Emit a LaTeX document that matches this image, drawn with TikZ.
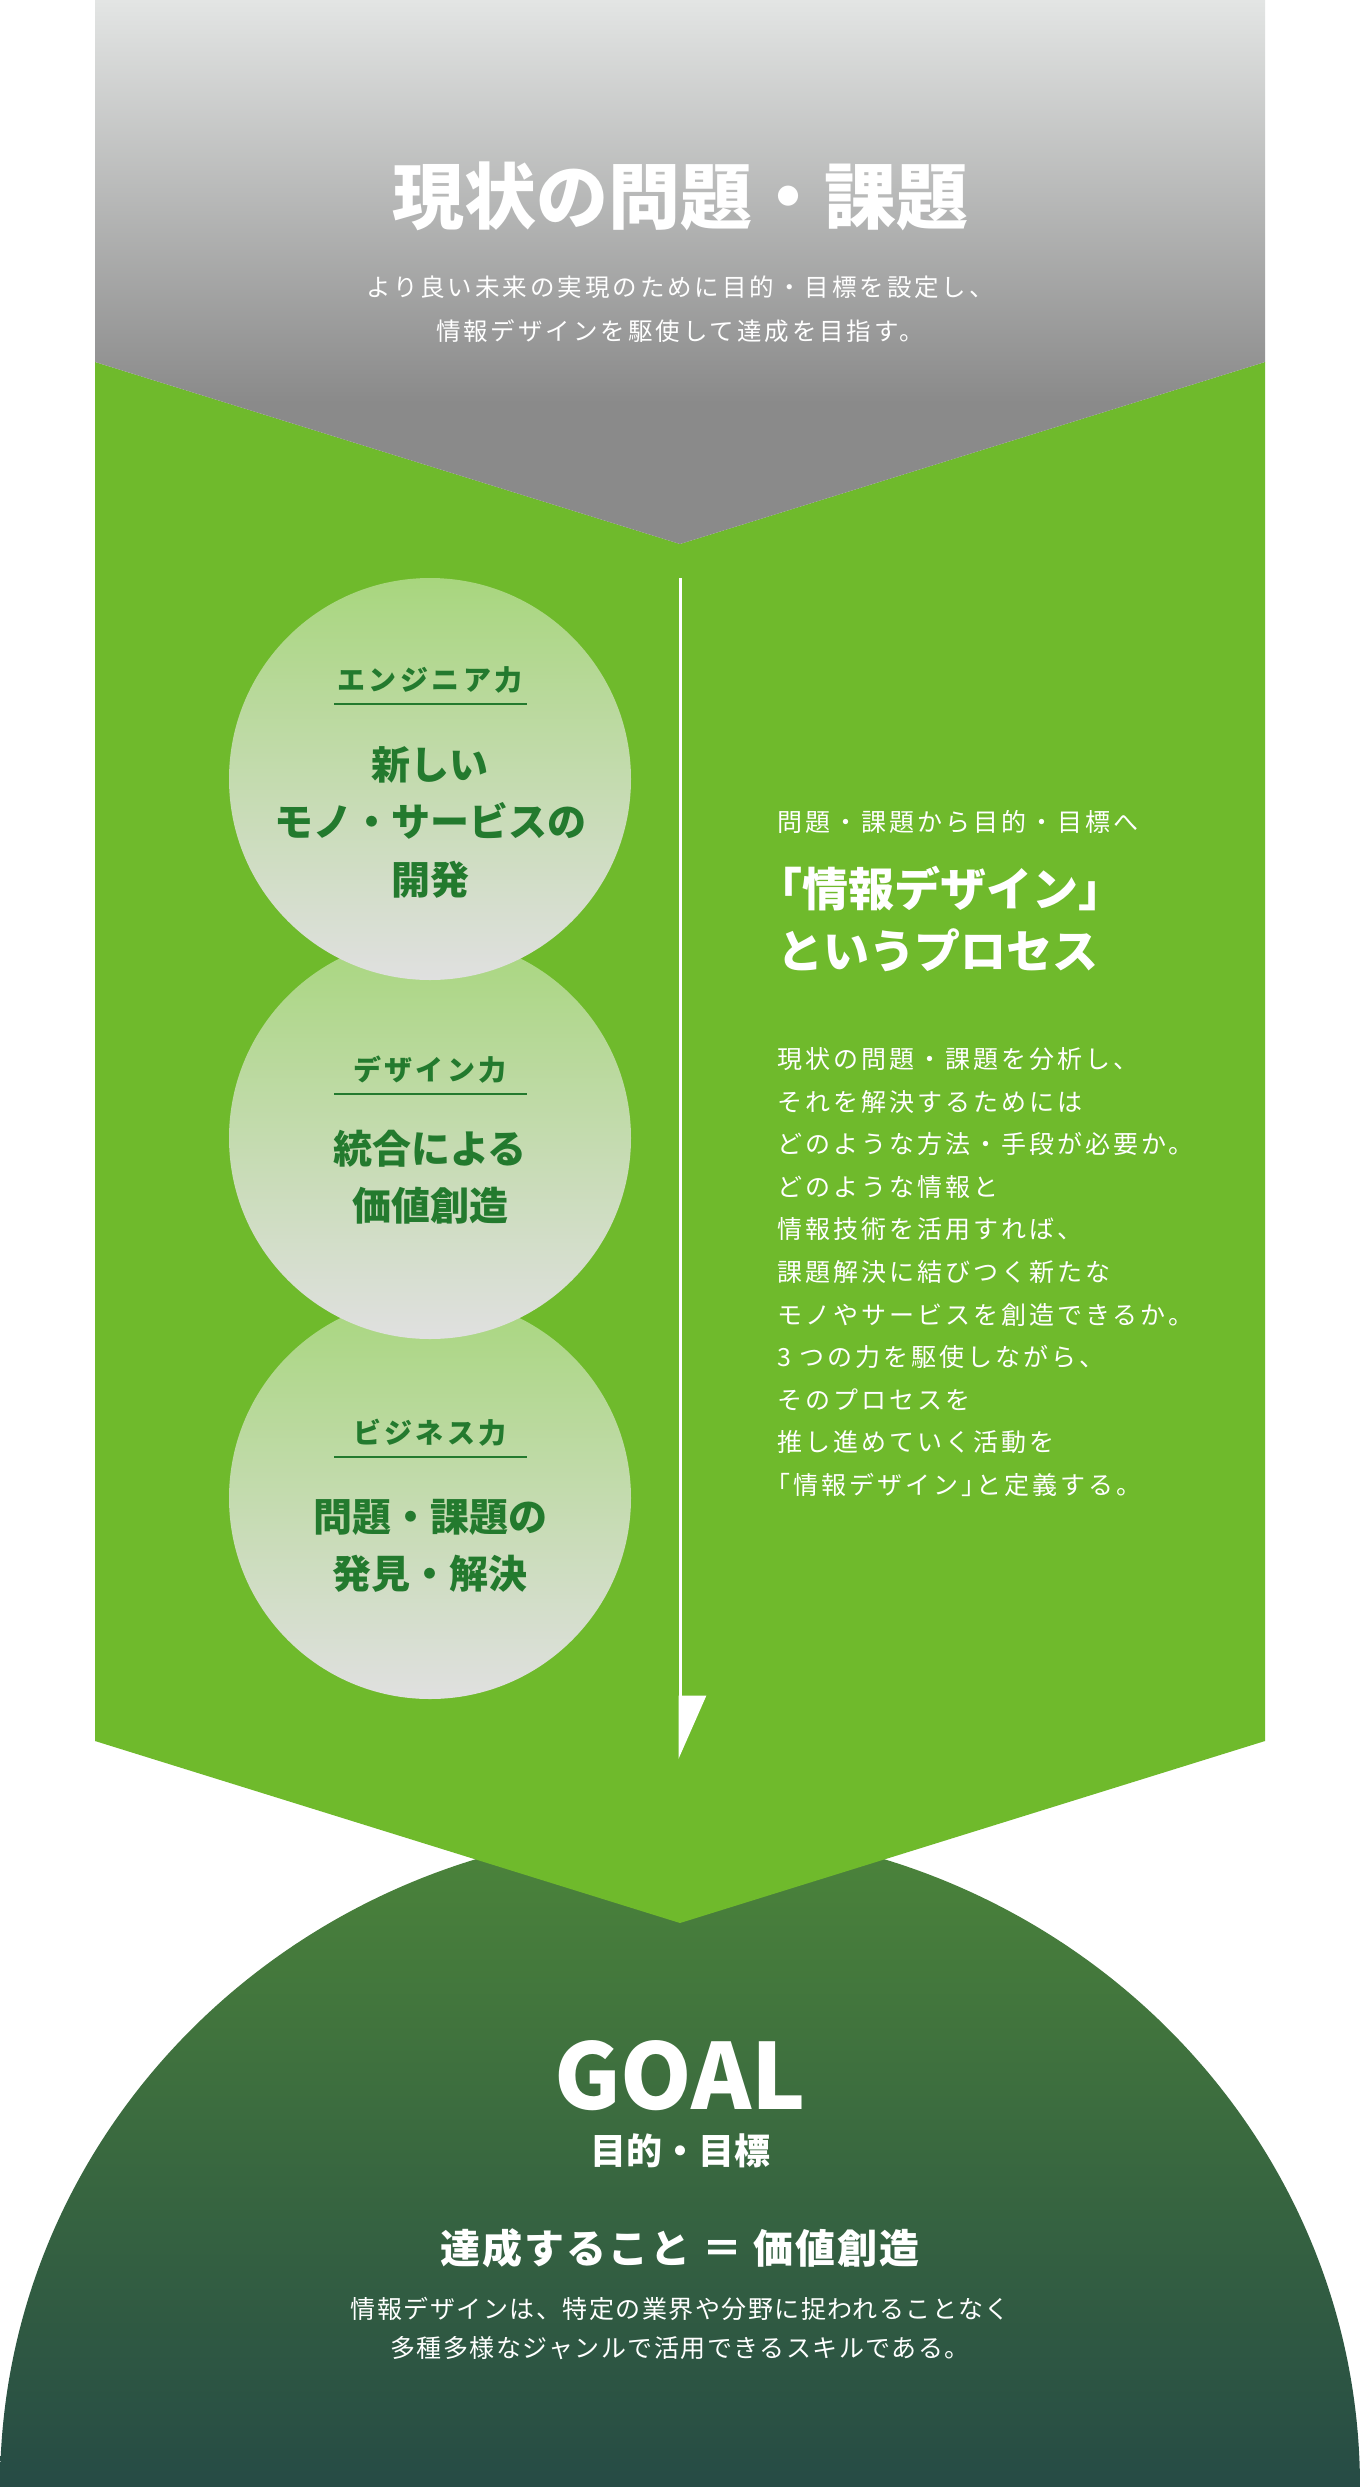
\documentclass[tikz,border=0pt]{standalone}
\usepackage{fontspec}
\setmainfont{Noto Sans CJK JP}
\usepackage{xcolor}
\definecolor{LeafGreen}{HTML}{6FBA2C}
\definecolor{ForestTop}{HTML}{4C853A}
\definecolor{ForestBottom}{HTML}{264B45}
\definecolor{MistTop}{HTML}{E3E5E4}
\definecolor{MistBottom}{HTML}{8A8A8A}
\definecolor{BallTop}{HTML}{A8D67E}
\definecolor{BallBottom}{HTML}{E0E0E0}
\definecolor{BallText}{HTML}{237A2E}
\usetikzlibrary{positioning,calc,arrows.meta}

\pgfdeclareverticalshading{mistfade}{100bp}{color(0bp)=(MistBottom); color(38bp)=(MistBottom); color(75bp)=(MistTop); color(100bp)=(MistTop)}

\tikzset{
  headline/.style={text=white, inner sep=0pt, font=\fontsize{72}{80}\selectfont\bfseries},
  leadtext/.style={text=white, inner sep=0pt, align=center,
    font=\fontsize{24.5}{44}\selectfont\addfontfeatures{LetterSpace=12}},
  powerball/.style={circle, minimum size=402pt, inner sep=0pt, shade, top color=BallTop, bottom color=BallBottom},
  balltag/.style={text=BallText, inner sep=0pt,
    font=\fontsize{28}{30}\selectfont\bfseries\addfontfeatures{LetterSpace=12}},
  tagrule/.style={draw=BallText, line width=1.5pt},
  balltext/.style={text=BallText, inner sep=0pt, align=center, font=\fontsize{39}{57.5}\selectfont\bfseries},
  sidetext/.style={text=white, inner sep=0pt, align=left, anchor=west,
    font=\fontsize{25}{42.6}\selectfont\addfontfeatures{LetterSpace=12}},
  sidehead/.style={text=white, inner sep=0pt, align=left, anchor=west, font=\fontsize{46}{62}\selectfont\bfseries},
  flowline/.style={draw=white, line width=3pt, -{Triangle[left, length=60pt, width=52pt]}},
  goalword/.style={text=white, inner sep=0pt, font=\fontsize{91}{100}\selectfont\bfseries},
  goalsub/.style={text=white, inner sep=0pt, font=\fontsize{36}{40}\selectfont\bfseries},
  goalclaim/.style={text=white, inner sep=0pt, font=\fontsize{40}{44}\selectfont\bfseries\addfontfeatures{LetterSpace=5}},
  goalnote/.style={text=white, inner sep=0pt, align=center, font=\fontsize{25}{39}\selectfont\addfontfeatures{LetterSpace=6}}
}

\begin{document}
\begin{tikzpicture}[x=1pt, y=-1pt]
  \useasboundingbox (0,0) rectangle (1360,2487);
  \fill[white] (0,0) rectangle (1360,2487);
  \shade[top color=ForestTop, bottom color=ForestBottom]
    (0,2487) arc[start angle=180, end angle=360, x radius=680, y radius=658] -- cycle;
  \fill[LeafGreen] (95,362) -- (680,544) -- (1265,362) -- (1265,1741) -- (680,1923) -- (95,1741) -- cycle;
  \shade[shading=mistfade] (95,0) -- (1265,0) -- (1265,362) -- (680,544) -- (95,362) -- cycle;

  \node[headline] (issueTitle) at (680,196) {現状の問題・課題};
  \node[leadtext] (issueLead) at (680,309) {より良い未来の実現のために目的・目標を設定し、\\情報デザインを駆使して達成を目指す。};

  \node[powerball] (bizBall) at (430,1498) {};
  \node[powerball] (designBall) at (430,1138) {};
  \node[powerball] (engBall) at (430,779) {};

  \node[balltag] (engTag) at (430,680) {エンジニア力};
  \draw[tagrule] ($(engTag.center)+(-96,24)$) -- ($(engTag.center)+(97,24)$);
  \node[balltext] (engText) at (430,822) {新しい\\モノ・サービスの\\開発};

  \node[balltag] (designTag) at (430,1070) {デザイン力};
  \draw[tagrule] ($(designTag.center)+(-96,24)$) -- ($(designTag.center)+(97,24)$);
  \node[balltext] (designText) at (430,1177) {統合による\\価値創造};

  \node[balltag] (bizTag) at (430,1433) {ビジネス力};
  \draw[tagrule] ($(bizTag.center)+(-96,24)$) -- ($(bizTag.center)+(97,24)$);
  \node[balltext] (bizText) at (430,1546) {問題・課題の\\発見・解決};

  \coordinate (flowTop) at (680,578);
  \coordinate (flowEnd) at (680,1759);
  \draw[flowline] (flowTop) -- (flowEnd);

  \node[sidetext] (processLead) at (777,822) {問題・課題から目的・目標へ};
  \node[sidehead] (processHead) at (777,919) {\hspace*{-.45em}「情報デザイン」\\というプロセス};
  \node[sidetext] (processBody) at (777,1272) {現状の問題・課題を分析し、\\
    それを解決するためには\\
    どのような方法・手段が必要か。\\
    どのような情報と\\
    情報技術を活用すれば、\\
    課題解決に結びつく新たな\\
    モノやサービスを創造できるか。\\
    3 つの力を駆使しながら、\\
    そのプロセスを\\
    推し進めていく活動を\\
    \hspace*{-.45em}「情報デザイン」\kern-.4em と定義する。};

  \node[goalword] (goalWord) at (680,2076) {GOAL};
  \node[goalsub] (goalSub) at (680,2151) {目的・目標};
  \node[goalclaim] (goalClaim) at (680,2248) {達成すること ＝ 価値創造};
  \node[goalnote] (goalNote) at (680,2328) {情報デザインは、特定の業界や分野に捉われることなく\\多種多様なジャンルで活用できるスキルである。};
\end{tikzpicture}
\end{document}
